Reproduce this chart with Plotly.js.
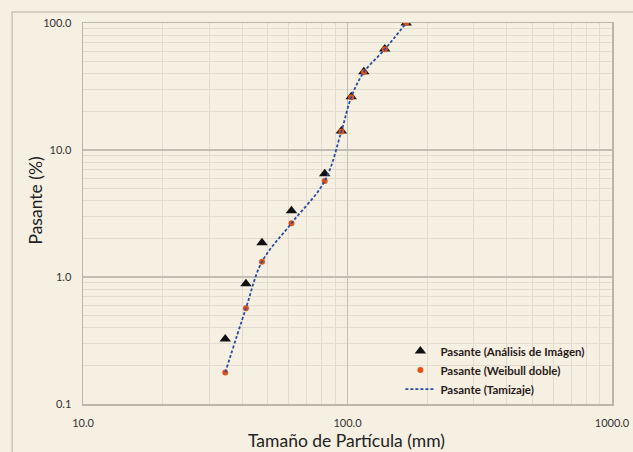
<!DOCTYPE html>
<html>
<head>
<meta charset="utf-8">
<script src="https://cdn.plot.ly/plotly-3.0.1.min.js"></script>
<style>html,body{margin:0;padding:0;background:#f6f0e2;}#chart{width:633px;height:452px;}</style>
</head>
<body>
<div id="chart"></div>
<script>
// Particle size (mm)
const sizes = [34.5, 41.3, 47.5, 61.4, 82, 94.8, 103.3, 115.3, 138.3, 166.7];
// Passing (%) - image analysis
const pasanteImagen = [0.325, 0.885, 1.86, 3.33, 6.5, 14.1, 26.3, 41.4, 62.4, 100];
// Passing (%) - double Weibull
const pasanteWeibull = [0.177, 0.567, 1.32, 2.65, 5.7, 14.0, 26.0, 41.0, 62.0, 100];
// Passing (%) - sieving
const pasanteTamizaje = [0.177, 0.567, 1.32, 2.65, 5.7, 14.0, 26.0, 41.0, 62.0, 100];

const xTickVals = [10, 100, 1000];
const xTickText = ["10.0", "100.0", "1000.0"];
const yTickVals = [0.1, 1, 10, 100];
const yTickText = ["0.1", "1.0", "10.0", "100.0"];

const font = "Lato, 'Open Sans', sans-serif";

const traces = [
  {x: sizes, y: pasanteImagen, name: "Pasante (Análisis de Imágen)", mode: "markers", type: "scatter",
   marker: {symbol: "triangle-up", size: 10, color: "#111111"}},
  {x: sizes, y: pasanteWeibull, name: "Pasante (Weibull doble)", mode: "markers", type: "scatter",
   marker: {symbol: "circle", size: 6, color: "#e2531c"}},
  {x: sizes, y: pasanteTamizaje, name: "Pasante (Tamizaje)", mode: "lines", type: "scatter",
   line: {color: "#2b4c9e", width: 1.8, dash: "3px,2px", shape: "spline", smoothing: 1}}
];

const axisCommon = {
  type: "log", showline: true, mirror: true, linecolor: "#bab6aa", linewidth: 1.5,
  showgrid: true, gridcolor: "#c2beb3", gridwidth: 1.5, zeroline: false,
  ticks: "", tickfont: {family: font, size: 11, color: "#333"},
  minor: {dtick: "D1", showgrid: true, gridcolor: "#e1dccf", gridwidth: 1, ticks: ""}
};

const layout = {
  width: 633, height: 452,
  margin: {l: 83, r: 21, t: 23, b: 48},
  paper_bgcolor: "#f6f0e2", plot_bgcolor: "#f6f0e2",
  showlegend: true,
  legend: {x: 0.6, y: 0.177, xanchor: "left", yanchor: "top", bgcolor: "rgba(0,0,0,0)",
           font: {family: font, size: 11.5, color: "#2a1a1a", weight: "bold"}, tracegroupgap: 0},
  xaxis: Object.assign({}, axisCommon, {
    range: [1, 3], tickvals: xTickVals, ticktext: xTickText, ticklabelstandoff: 8
  }),
  yaxis: Object.assign({}, axisCommon, {
    range: [-1, 2], tickvals: yTickVals, ticktext: yTickText, ticklabelstandoff: 8
  }),
  annotations: [
    {text: "Tamaño de Partícula (mm)", xref: "paper", yref: "paper", x: 0.498, y: -0.097,
     xanchor: "center", yanchor: "middle", showarrow: false, font: {family: font, size: 17.5, color: "#222"}},
    {text: "Pasante (%)", xref: "paper", yref: "paper", x: -0.09, y: 0.535, textangle: -90,
     xanchor: "center", yanchor: "middle", showarrow: false, font: {family: font, size: 17.5, color: "#222"}}
  ],
  shapes: [
    {type: "rect", xref: "paper", yref: "paper", x0: -0.134, x1: 2, y0: -0.5, y1: 1.029,
     line: {color: "#c9c5ba", width: 1.5}, fillcolor: "rgba(0,0,0,0)", layer: "below"}
  ]
};

Plotly.newPlot("chart", traces, layout, {displayModeBar: false, staticPlot: true});
</script>
</body>
</html>
